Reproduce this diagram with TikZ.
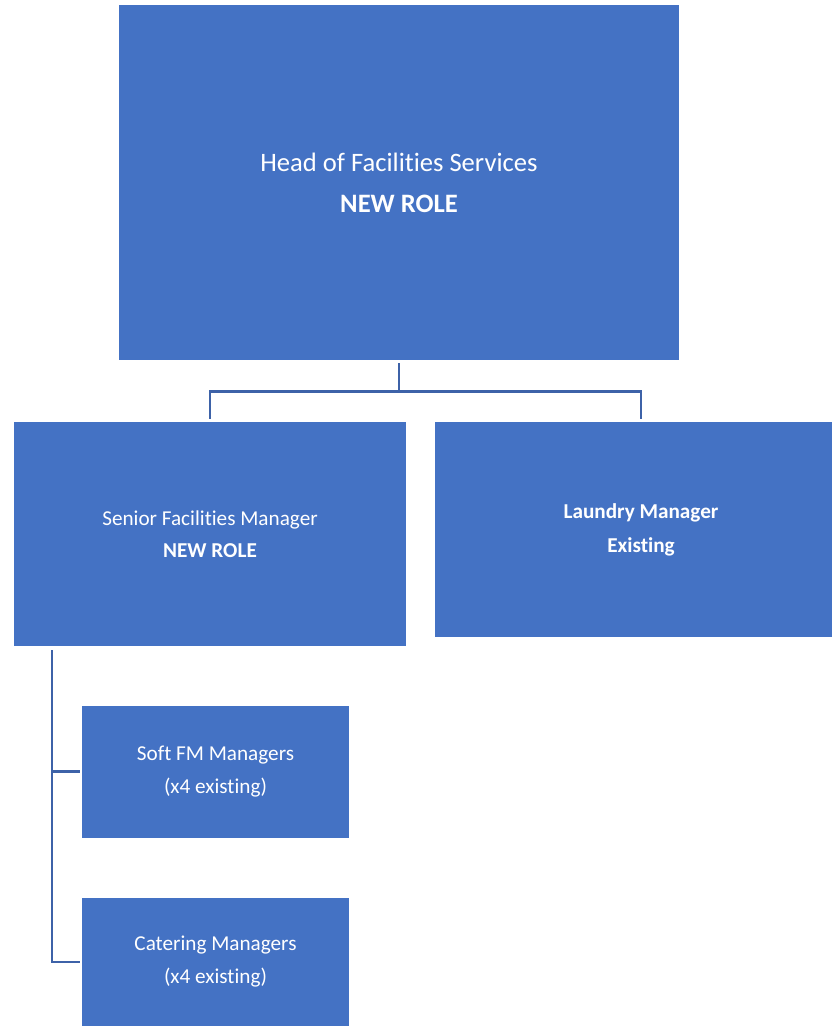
\documentclass[tikz,border=0pt]{standalone}
\usepackage{fontspec}
\setmainfont{Carlito}[RawFeature={-liga;-clig;-calt;-dlig}]
\definecolor{roleblue}{HTML}{4472C4}
\definecolor{linkblue}{HTML}{3D62A8}

\begin{document}
\begin{tikzpicture}[x=1pt, y=-1pt]
    \tikzstyle{every node} = [shape=rectangle, fill=roleblue, text=white, align=center, inner sep=0pt]
    \tikzstyle{link} = [draw=linkblue, line width=2.6pt]
    \useasboundingbox (0, 0) rectangle (831, 1026);
    \node (head)   [minimum width=560, minimum height=355, font=\fontsize{26.6}{41}\selectfont] at (399, 182.5) {Head of Facilities Services\\ \textbf{NEW ROLE}};
    \node (senior) [minimum width=392, minimum height=224, font=\fontsize{21.2}{32}\selectfont] at (210, 534) {Senior Facilities Manager\\ \textbf{NEW ROLE}};
    \node (laundry)[minimum width=412, minimum height=215, font=\fontsize{21.2}{34}\selectfont] at (641, 529.5) {\textbf{Laundry Manager}\\ \textbf{Existing}};
    \node (soft)   [minimum width=267, minimum height=132, font=\fontsize{21.2}{33}\selectfont] at (215.5, 771.5) {Soft FM Managers\\ (x4 existing)};
    \node (cater)  [minimum width=267, minimum height=128, font=\fontsize{21.2}{33}\selectfont] at (215.5, 962) {Catering Managers\\ (x4 existing)};
    \coordinate (trunk) at (52, 650);
    \draw [link, shorten <=3pt, shorten >=3pt] (head.south) -- ++(0, 31) -| (senior.north);
    \draw [link, shorten <=3pt, shorten >=3pt] (head.south) -- ++(0, 31) -| (laundry.north);
    \draw [link, shorten >=2pt] (trunk) |- (soft.west);
    \draw [link, shorten >=2pt] (trunk) |- (cater.west);
  \end{tikzpicture}
\end{document}
